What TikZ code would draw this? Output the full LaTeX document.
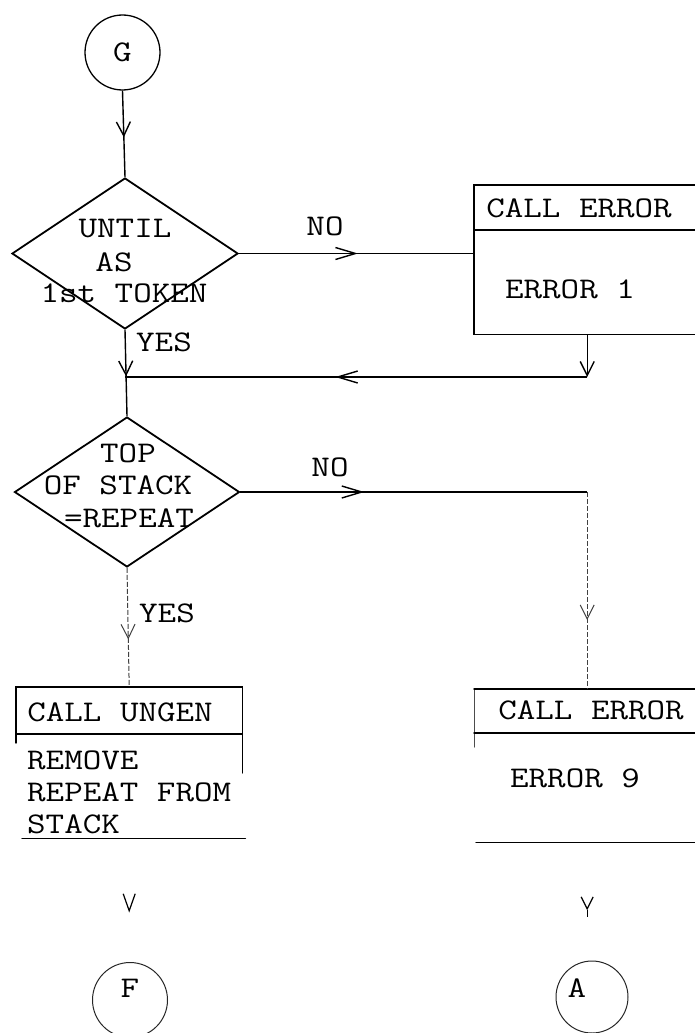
\documentclass[tikz,border=0pt]{standalone}
\usepackage{fontspec}
\setmainfont{Latin Modern Mono}[FakeStretch=1.2]
\usetikzlibrary{shapes.geometric, arrows.meta, decorations.markings, calc}

\tikzset{
  vtip/.tip={Straight Barb[length=14pt, width=14pt]},
  htip/.tip={Straight Barb[length=20pt, width=12pt]},
}

\begin{document}
\begin{tikzpicture}[x=1pt, y=-1pt,
  txt/.style={font=\fontsize{30}{32}\selectfont, inner sep=0pt,
              text height=18pt, text depth=0pt},
  conn/.style={circle, draw, line width=1.3pt, minimum size=75pt, inner sep=0pt},
  decision/.style={diamond, draw, line width=1.8pt, inner sep=0pt},
  boxframe/.style={rectangle, draw=none, inner sep=0pt, anchor=north west,
                   minimum width=226pt},
  frame/.style={line width=1.4pt, line cap=round},
  flowline/.style={line width=1.4pt},
  fadedline/.style={line width=1pt, draw=black!75, dash pattern=on 5pt off 2pt},
  midarrow/.style 2 args={postaction=decorate,
    decoration={markings, mark=at position #1 with {\arrow[solid]{#2}}}},
]
\useasboundingbox (0,0) rectangle (695,1033);
\clip (0,0) rectangle (695,1033);

% ---- connector circles ----
\node[conn, txt] (G) at (122.5,52.5) {G};
\node[conn, line width=1pt, draw=black!85] (F) at (130,1000) {};
\node[txt] (Fl) at (130,988) {F};
\node[conn, line width=1pt, draw=black!85, minimum size=72pt] (A) at (592,997) {};
\node[txt] (Al) at (577,988) {A};

% ---- decisions ----
\node[decision, minimum width=226pt, minimum height=151pt] (d1) at (125,253.5) {};
\node[txt] (t1a) at (125,228) {UNTIL};
\node[txt] (t1b) at (114,262) {AS};
\node[txt] (t1c) at (124,293) {1st TOKEN};

\node[decision, minimum width=225pt, minimum height=150pt] (d2) at (127,492) {};
\node[txt] (t2a) at (128,453) {TOP};
\node[txt] (t2b) at (118,485) {OF STACK};
\node[txt] (t2c) at (129,518) {=REPEAT};

% ---- process boxes (frames drawn below, sides partly open) ----
\node[boxframe, minimum height=149pt] (err1) at (474,185) {};
\node[boxframe, minimum height=151pt] (ungen) at (16,687) {};
\node[boxframe, minimum height=153pt] (err2) at (474,689) {};

\draw[frame] (err1.north east) -- (err1.north west) -- (err1.south west) -- (err1.south east);
\draw[frame] ($(err1.north west)+(0,45)$) -- ($(err1.north east)+(0,45)$);

\draw[frame] ($(ungen.north west)+(0,56)$) -- (ungen.north west) -- (ungen.north east)
             -- ($(ungen.north east)+(0,86)$);
\draw[frame] ($(ungen.north west)+(0,47)$) -- ($(ungen.north east)+(0,47)$);
\draw[frame] ($(ungen.south west)+(6,0)$) -- ($(ungen.south east)+(3,0)$);

\draw[frame, line width=1pt, draw=black!70] ($(err2.north west)+(0,58)$) -- (err2.north west);
\draw[frame] (err2.north west) -- (err2.north east);
\draw[frame] ($(err2.north west)+(0,44)$) -- ($(err2.north east)+(0,44)$);
\draw[frame] ($(err2.south west)+(2,0)$) -- (err2.south east);

% ---- box texts ----
\node[txt] (e1a) at (579,208) {CALL ERROR};
\node[txt] (e1b) at (570,289) {ERROR 1};
\node[txt] (u1) at (120,712) {CALL UNGEN};
\node[txt, anchor=west] (u2) at (27,760) {REMOVE};
\node[txt, anchor=west] (u3) at (27,792) {REPEAT FROM};
\node[txt, anchor=west] (u4) at (27,824) {STACK};
\node[txt] (e2a) at (591,710) {CALL ERROR};
\node[txt] (e2b) at (575,778) {ERROR 9};

% ---- branch labels ----
\node[txt] (no1) at (325,226) {NO};
\node[txt] (yes1) at (164,342) {YES};
\node[txt] (no2) at (330,467) {NO};
\node[txt] (yes2) at (167,613) {YES};

% ---- connectors ----
\coordinate (j) at (125,377);
\coordinate (k) at (err2.north |- d2.east);

\draw[flowline, midarrow={0.54}{vtip}] (G.south) -- (d1.north);
\draw[flowline, midarrow={0.506}{htip}] (d1.east) -- (d1.east -| err1.west);
\draw[flowline, -{vtip}] (err1.south) -- (err1.south |- j);
\draw[flowline, midarrow={0.545}{htip}] (err1.south |- j) -- (j);
\draw[flowline, midarrow={0.54}{vtip}] (d1.south) -- (d2.north);

\draw[flowline, midarrow={0.357}{htip}] (d2.east) -- (k);
\draw[fadedline, midarrow={0.65}{vtip}] (k) -- (err2.north);
\draw[fadedline, midarrow={0.6}{vtip}] (d2.south) -- (ungen.north);

% exits towards the off-page connectors: only the arrow heads remain
\path[line width=1.2pt, midarrow={0.6}{Straight Barb[length=17pt, width=12pt]}]
  (ungen.south) -- (ungen.south |- F.north);
\path[line width=1.2pt, postaction=decorate,
      decoration={markings, mark=at position 0.574 with
        {\arrow{Straight Barb[length=12pt, width=12pt]}
         \draw[line width=1.2pt] (0,0) -- (7,0);}}]
  (err2.south) -- (err2.south |- A.north);
\end{tikzpicture}
\end{document}
